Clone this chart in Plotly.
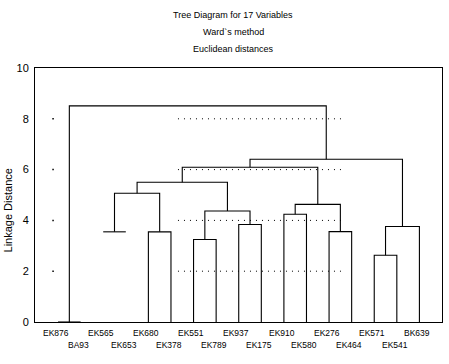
import plotly.graph_objects as go

# ---------------- data ----------------
leaf_labels = ["EK876", "BA93", "EK565", "EK653", "EK680", "EK378", "EK551", "EK789",
               "EK937", "EK175", "EK910", "EK580", "EK276", "EK464", "EK571", "EK541", "BK639"]
# height at which each leaf's stem starts (EK565/EK653 are drawn without stems in the original)
leaf_heights = [0, 0, 3.55, 3.55, 0, 0, 0, 0, 0, 0, 0, 0, 0, 0, 0, 0, 0]
# merges: (left id, right id, linkage distance); new cluster ids start at len(leaf_labels)
merge_left = [0, 14, 6, 4, 2, 12, 18, 8, 10, 19, 25, 21, 28, 29, 30, 17]
merge_right = [1, 15, 7, 5, 3, 13, 16, 9, 11, 24, 22, 20, 26, 27, 23, 31]
merge_height = [0.0, 2.63, 3.25, 3.55, 3.55, 3.56, 3.76, 3.84, 4.24, 4.37, 4.63, 5.07, 5.50, 6.09, 6.41, 8.51]

y_ticks = [0, 2, 4, 6, 8, 10]
grid_levels = [2, 4, 6, 8]

title_lines = ["Tree Diagram for 17 Variables", "Ward`s method", "Euclidean distances"]
y_title = "Linkage Distance"

# ---------------- build dendrogram ----------------
n = len(leaf_labels)
xs = {i: float(i) for i in range(n)}
hs = {i: leaf_heights[i] for i in range(n)}
seg_x, seg_y = [], []
for k, (a, b, h) in enumerate(zip(merge_left, merge_right, merge_height)):
    xa, xb = xs[a], xs[b]
    seg_x += [xa, xa, xb, xb, None]
    seg_y += [hs[a], h, h, hs[b], None]
    xs[n + k] = (xa + xb) / 2
    hs[n + k] = h

FONT = "Liberation Sans, Arial, sans-serif"

fig = go.Figure()

# dotted partial grid (as in original rendering)
grid_x0, grid_x1, grid_dot = 5.31, 12.71, -0.22
for lv in grid_levels:
    fig.add_trace(go.Scatter(x=[grid_x0, grid_x1], y=[lv, lv], mode="lines",
                             line=dict(color="black", width=1, dash="1px,5px"),
                             hoverinfo="skip", showlegend=False))
    fig.add_trace(go.Scatter(x=[grid_dot], y=[lv], mode="markers",
                             marker=dict(color="black", size=1.5, symbol="square"),
                             hoverinfo="skip", showlegend=False))

fig.add_trace(go.Scatter(x=seg_x, y=seg_y, mode="lines",
                         line=dict(color="black", width=1.1),
                         hoverinfo="skip", showlegend=False))

# leaf labels, alternating in two rows
for i, lab in enumerate(leaf_labels):
    fig.add_annotation(x=i - 0.1, y=-0.045 if i % 2 == 0 else -0.091, xref="x", yref="paper",
                       text=lab, showarrow=False, xanchor="center", yanchor="middle",
                       font=dict(family=FONT, size=8.5, color="black"))

for j, (t, yy) in enumerate(zip(title_lines, [1.2087, 1.1437, 1.0748])):
    fig.add_annotation(x=0.4865, y=yy, xref="paper", yref="paper", text=t,
                       showarrow=False, xanchor="center", yanchor="middle",
                       font=dict(family=FONT, size=9, color="black"))

fig.add_annotation(x=-0.0676, y=0.441, xref="paper", yref="paper", text=y_title,
                   textangle=-90, showarrow=False, xanchor="center", yanchor="middle",
                   font=dict(family=FONT, size=11, color="black"))

fig.update_layout(
    width=449, height=364,
    margin=dict(l=35, r=7, t=68, b=42),
    paper_bgcolor="white", plot_bgcolor="white",
    xaxis=dict(range=[-1.02, 17.0], showticklabels=False, showgrid=False, zeroline=False,
               showline=True, mirror=True, linecolor="black", linewidth=1, ticks=""),
    yaxis=dict(range=[0, 10], tickvals=y_ticks, ticktext=[str(v) for v in y_ticks],
               showgrid=False, zeroline=False, showline=True, mirror=True,
               linecolor="black", linewidth=1, ticks="", ticklabelstandoff=3,
               tickfont=dict(family=FONT, size=11, color="black")),
)

fig.write_html("out.html", config={"displayModeBar": False},
               post_script="document.body.style.margin='0';")
